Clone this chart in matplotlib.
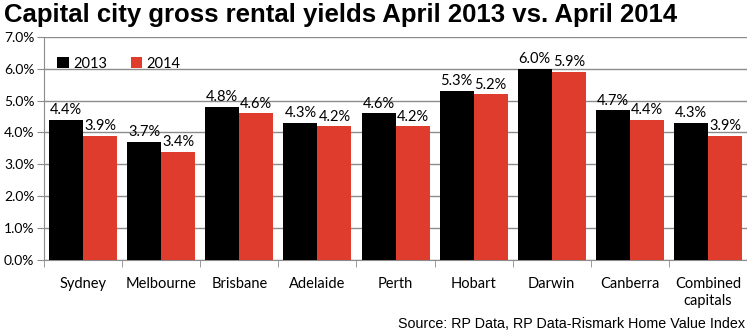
import matplotlib.pyplot as plt
import numpy as np
from matplotlib.ticker import FixedLocator

cities = ['Sydney', 'Melbourne', 'Brisbane', 'Adelaide', 'Perth',
          'Hobart', 'Darwin', 'Canberra', 'Combined\ncapitals']
yield_2013 = [4.4, 3.7, 4.8, 4.3, 4.6, 5.3, 6.0, 4.7, 4.3]
yield_2014 = [3.9, 3.4, 4.6, 4.2, 4.2, 5.2, 5.9, 4.4, 3.9]
y_ticks = [0, 1, 2, 3, 4, 5, 6, 7]

black = '#000000'
red = '#e03c2d'
grid_col = '#8c8c8c'

fig = plt.figure(figsize=(7.47, 3.35), dpi=100)
ax = fig.add_axes([0.059, 0.224, 0.941, 0.666])

x = np.arange(len(cities))
w = 0.435
b1 = ax.bar(x - w / 2, yield_2013, w, color=black, label='2013', zorder=3)
b2 = ax.bar(x + w / 2, yield_2014, w, color=red, label='2014', zorder=3)

# value labels above each bar
for bars, vals in ((b1, yield_2013), (b2, yield_2014)):
    for r, v in zip(bars, vals):
        ax.text(r.get_x() + r.get_width() / 2, v + 0.08, f'{v:.1f}%',
                ha='center', va='bottom', fontsize=10.5, family='Lato')

ax.set_xlim(-0.5, len(cities) - 0.5)
ax.set_ylim(0, 7)
ax.set_yticks(y_ticks)
ax.set_yticklabels([f'{t:.1f}%' for t in y_ticks], fontsize=10, family='Lato')
ax.yaxis.grid(True, color=grid_col, linewidth=1, zorder=0)

ax.set_xticks(x)
ax.set_xticklabels(cities, fontsize=10.5, family='Lato', linespacing=1.3)
ax.tick_params(axis='x', which='major', length=0, pad=12)
ax.xaxis.set_minor_locator(FixedLocator(np.arange(-0.5, len(cities), 1)))
ax.tick_params(axis='x', which='minor', length=5, color=grid_col)
ax.tick_params(axis='y', length=5, color=grid_col, pad=2)

for s in ('top', 'right'):
    ax.spines[s].set_visible(False)
for s in ('left', 'bottom'):
    ax.spines[s].set_color(grid_col)

leg = ax.legend(loc='upper left', bbox_to_anchor=(0.0, 0.97), ncol=2, frameon=False,
                prop={'family': 'Lato', 'size': 10.5}, handlelength=0.8,
                handleheight=0.8, handletextpad=0.3, columnspacing=1.6)

fig.text(0.005, 0.99, 'Capital city gross rental yields April 2013 vs. April 2014',
         fontsize=18.5, fontweight='bold', family='Liberation Sans', va='top')
fig.text(0.997, 0.012, 'Source: RP Data, RP Data-Rismark Home Value Index',
         fontsize=10.3, family='Liberation Sans', ha='right', va='bottom')

fig.savefig('out.png', dpi=100)
